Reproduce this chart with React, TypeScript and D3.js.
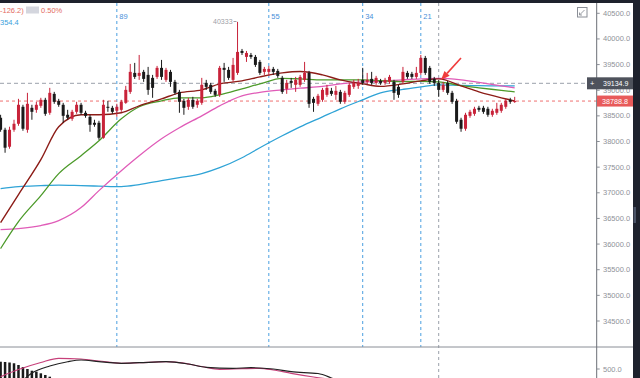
import React from 'react';
import * as d3 from 'd3';

const W = 640;
const H = 378;

// OHLC per candle (index 0..115)
const candleOpen = [38463,38229,37898,38229,38346,38677,38229,38657,38618,38696,38813,38560,38929,38793,38716,38521,38443,38579,38716,38560,38482,38365,38365,38073,38677,38657,38599,38618,38754,38968,39338,39280,39358,39299,39241,39260,39436,39202,39358,39163,38968,38793,38677,38813,38716,38754,39143,39105,38988,38910,39436,39397,39202,39338,39766,39650,39688,39650,39552,39358,39358,39416,39377,39241,39027,39182,39105,39105,39202,39338,38832,38735,38813,38910,38988,38910,38968,38774,38910,39066,39085,39202,39163,39221,39143,39182,39143,39163,39163,39066,39163,39338,39319,39260,39338,39630,39436,39221,39143,39007,39143,38949,38793,38424,38249,38501,38540,38657,38657,38638,38521,38560,38599,38677,38813,38774];
const candleHigh = [38521,38268,38288,38424,38832,38716,38949,38716,38774,38852,38852,39046,38968,38832,38754,38618,38618,38774,38754,38599,38521,38424,38404,38813,38793,38696,38735,38813,39085,39513,39533,39688,39397,39455,39299,39474,39591,39436,39397,39202,39007,38832,38852,38871,38832,39241,39202,39143,39027,39474,39533,39455,39630,40333,39805,39766,39727,39688,39591,39455,39474,39455,39416,39280,39202,39241,39260,39299,39552,39377,38871,38929,39046,39105,39046,39085,39007,38988,39143,39202,39221,39436,39338,39358,39280,39221,39241,39299,39202,39105,39455,39377,39358,39455,39688,39669,39474,39260,39202,39163,39182,38988,38832,38463,38560,38618,38677,38696,38696,38677,38638,38754,38754,38832,38852,38871];
const candleLow = [38190,37781,37859,38190,38307,38210,38171,38424,38560,38657,38501,38521,38735,38677,38365,38424,38404,38540,38521,38463,38190,38288,38034,38054,38579,38540,38482,38579,38735,38929,39221,39202,39163,38910,38852,39221,39202,39163,39066,38910,38560,38521,38618,38638,38657,38716,39007,38929,38871,38871,39163,39202,39163,39299,39688,39552,39611,39455,39299,39299,39280,39299,39241,38929,38929,39046,38968,39066,39163,38657,38579,38696,38774,38871,38891,38813,38735,38735,38871,39027,39027,39105,39124,39105,39105,39105,39105,39124,38813,38852,39124,39221,39221,39221,39299,39299,39124,39085,38871,38968,38910,38735,38346,38190,38210,38463,38501,38579,38540,38482,38482,38521,38560,38638,38735,38754];
const candleClose = [38229,37879,38229,38346,38716,38249,38735,38579,38716,38813,38540,38949,38774,38716,38501,38463,38579,38716,38560,38501,38326,38326,38073,38716,38657,38579,38677,38774,39007,39358,39260,39338,39221,39007,39046,39436,39260,39397,39163,38949,38774,38657,38813,38677,38793,39105,39066,38968,38910,39436,39397,39241,39494,39747,39727,39727,39650,39494,39338,39416,39416,39358,39280,38968,39143,39143,39202,39260,39338,38735,38754,38891,39007,39046,38929,38988,38774,38949,39105,39143,39143,39143,39202,39143,39241,39143,39202,39260,38949,38910,39358,39260,39260,39338,39630,39338,39163,39143,39007,39105,38949,38774,38385,38249,38521,38579,38638,38618,38579,38521,38599,38638,38716,38793,38774,38788.8];

// Moving averages sampled at candle indices
const maIdx = [0,4,9,13,18,22,27,31,36,40,45,49,54,58,63,67,72,76,81,85,90,94,98,103,107,112,115];
const maShort = [36419,36964,37645,38287,38521,38521,38560,38696,38832,38949,39007,39124,39182,39260,39338,39364,39299,39202,39124,39075,39124,39182,39221,39085,38968,38852,38793];
const maMid = [35913,36439,36945,37373,37723,38015,38443,38677,38793,38852,38852,38910,39027,39124,39231,39221,39202,39202,39202,39188,39169,39173,39163,39089,39046,38998,38968];
const maLong = [36283,36303,36361,36458,36711,37042,37431,37723,38054,38268,38501,38696,38891,38959,39007,39040,39076,39124,39163,39173,39202,39221,39231,39202,39153,39085,39046];
const maVeryLong = [37081,37120,37139,37149,37139,37130,37120,37159,37237,37295,37373,37489,37684,37879,38112,38287,38482,38638,38813,38949,39017,39066,39105,39095,39089,39085,39085];

// Lower panel (MACD)
const histVals = [640,635,625,610,577,538,500,467,449,417,385,352];
const difIdx = [0,4,7,11,15,18,22,27,31,37,42,46,52,56,61,65,71,74,77];
const difVals = [58,212,423,558,640,673,640,610,621,640,596,533,513,525,500,448,413,327,212];
const deaIdx = [0,4,9,13,18,22,27,31,37,40,45,49,54,58,61,65,70,75];
const deaVals = [352,490,625,706,692,654,610,621,640,621,548,494,506,513,481,417,346,288];

const yTicks = [40500,40000,39500,39000,38500,38000,37500,37000,36500,36000,35500,35000,34500];
const fibIdx = [26,60,81,94];
const fibLabels = ['89','55','34','21'];
const crossIdx = 98;
const crossPrice = 39134.9;
const lastPrice = 38788.8;
const highMarkIdx = 53;
const highMarkLabel = '40333';

const FONT = "'Liberation Sans', Arial, sans-serif";
const RED = '#c8233a';
const BLACK = '#1a1a1a';

export default function App() {
  const x = d3.scaleLinear().domain([0, 115]).range([0.6, 514.7]);
  const y = d3.scaleLinear().domain([34500, 40500]).range([321, 13.3]);
  const yL = d3.scaleLinear().domain([0, 1000]).range([395, 343]);
  const axisX = 596.7;
  const panelY = 347;

  const maLine = d3.line<number>().x((_, i) => x(maIdx[i])).y((d) => y(d)).curve(d3.curveMonotoneX);
  const difLine = d3.line<number>().x((_, i) => x(difIdx[i])).y((d) => yL(d)).curve(d3.curveMonotoneX);
  const deaLine = d3.line<number>().x((_, i) => x(deaIdx[i])).y((d) => yL(d)).curve(d3.curveMonotoneX);

  const fmt = d3.format('.1f');
  const bw = 3;

  const tip = [441, 80];
  const tail = [461, 58];
  const dx = tip[0] - tail[0], dy = tip[1] - tail[1];
  const len = Math.hypot(dx, dy);
  const ux = dx / len, uy = dy / len;
  const bx = tip[0] - 9 * ux, by = tip[1] - 9 * uy;
  const px = -uy, py = ux;

  const yc = y(crossPrice);
  const yl = y(lastPrice);

  return (
    <svg width={W} height={H} style={{ position: 'absolute', left: 0, top: 0, background: '#fff' }} fontFamily={FONT}>
      <defs>
        <clipPath id="mainClip"><rect x={0} y={3} width={axisX} height={panelY - 3} /></clipPath>
        <clipPath id="lowClip"><rect x={0} y={panelY} width={axisX} height={H - panelY} /></clipPath>
      </defs>
      <rect x={0} y={0} width={W} height={H} fill="#fff" />

      {fibIdx.map((fi, k) => (
        <g key={'fib' + k}>
          <line x1={x(fi)} x2={x(fi)} y1={3} y2={panelY} stroke="#4a9fe0" strokeWidth={1} strokeDasharray="3 3" />
          <text x={x(fi) + 2.5} y={19} fontSize={7.5} fill="#4a90d9">{fibLabels[k]}</text>
        </g>
      ))}

      <line x1={x(crossIdx)} x2={x(crossIdx)} y1={3} y2={H} stroke="#9aa0aa" strokeWidth={1} strokeDasharray="3 3" />
      <line x1={0} x2={587} y1={yc} y2={yc} stroke="#9aa0aa" strokeWidth={1} strokeDasharray="4 3" />
      <line x1={0} x2={axisX} y1={yl} y2={yl} stroke="#ef6f6f" strokeWidth={1} strokeDasharray="3 3" />

      <g clipPath="url(#mainClip)">
        <path d={maLine(maVeryLong) || ''} fill="none" stroke="#2fa3d6" strokeWidth={1.3} />
        <path d={maLine(maLong) || ''} fill="none" stroke="#e05cb8" strokeWidth={1.3} />
        <path d={maLine(maMid) || ''} fill="none" stroke="#4c9a2a" strokeWidth={1.3} />
        <path d={maLine(maShort) || ''} fill="none" stroke="#8c1c17" strokeWidth={1.4} />

        {candleOpen.map((o, i) => {
          const c = candleClose[i];
          const up = c >= o;
          const col = up ? RED : BLACK;
          const top = y(Math.max(o, c));
          const bot = y(Math.min(o, c));
          const cx = x(i);
          return (
            <g key={'c' + i}>
              <line x1={cx} x2={cx} y1={y(candleHigh[i])} y2={y(candleLow[i])} stroke={col} strokeWidth={1} />
              <rect x={cx - bw / 2} y={top} width={bw} height={Math.max(1, bot - top)} fill={col} />
            </g>
          );
        })}
      </g>

      <text x={x(highMarkIdx) - 5} y={24} fontSize={7} fill="#a0a0a8" textAnchor="end">{highMarkLabel}</text>
      <line x1={x(highMarkIdx) - 4} x2={x(highMarkIdx) - 1} y1={21.5} y2={21.5} stroke="#a0a0a8" strokeWidth={1} />

      <line x1={tail[0]} y1={tail[1]} x2={bx} y2={by} stroke="#f03c3c" strokeWidth={1.6} />
      <polygon points={`${tip[0]},${tip[1]} ${bx + px * 3.5},${by + py * 3.5} ${bx - px * 3.5},${by - py * 3.5}`} fill="#f03c3c" />

      <g clipPath="url(#lowClip)">
        {histVals.map((v, i) => (
          <rect key={'h' + i} x={x(i) - 1.25} y={yL(v)} width={2.5} height={yL(0) - yL(v)} fill={BLACK} />
        ))}
        <path d={deaLine(deaVals) || ''} fill="none" stroke="#c7407a" strokeWidth={1.2} />
        <path d={difLine(difVals) || ''} fill="none" stroke="#222" strokeWidth={1.2} />
      </g>

      <line x1={0} x2={633} y1={panelY} y2={panelY} stroke="#8a8e96" strokeWidth={1} />
      <line x1={axisX} x2={axisX} y1={3} y2={H} stroke="#6a6e76" strokeWidth={1} />

      {yTicks.map((t) => (
        <g key={'t' + t}>
          <line x1={axisX} x2={axisX + 3} y1={y(t)} y2={y(t)} stroke="#8a8e96" />
          <text x={603} y={y(t) + (t === 39000 ? 3.2 : 2.5)} fontSize={7.5} fill="#8f9299">{fmt(t)}</text>
        </g>
      ))}
      <line x1={axisX} x2={axisX + 3} y1={yL(500)} y2={yL(500)} stroke="#8a8e96" />
      <text x={603} y={yL(500) + 2.5} fontSize={7.5} fill="#8f9299">{fmt(500)}</text>

      <rect x={587} y={yc - 6} width={46} height={12} fill="#4e525c" />
      <text x={590} y={yc + 2.5} fontSize={7.5} fill="#fff">+</text>
      <text x={603} y={yc + 2.2} fontSize={7} fill="#fff">{fmt(crossPrice)}</text>
      <rect x={597} y={yl - 5.5} width={36} height={11} fill="#e85a5a" />
      <text x={602} y={yl + 2.5} fontSize={7.2} fill="#fff">{fmt(lastPrice)}</text>

      <rect x={577.5} y={7.5} width={9.5} height={9.5} fill="none" stroke="#8a8e96" strokeWidth={1} />
      <path d="M579.5,15 L584.5,10 M579.5,12.5 L579.5,15 L582,15" fill="none" stroke="#8a8e96" strokeWidth={0.9} />

      <text x={0} y={13} fontSize={7.5} fill="#e36b62">-126.2)</text>
      <rect x={26} y={6.5} width={13} height={7} fill="#d4d6de" />
      <text x={41} y={13} fontSize={7.5} fill="#e36b62">0.50%</text>
      <text x={0} y={25} fontSize={7.5} fill="#3a9fdc">354.4</text>

      <rect x={0} y={0} width={W} height={3} fill="#1e222d" />
      <rect x={633} y={0} width={7} height={H} fill="#1e222d" />
      <rect x={633.5} y={207} width={2.5} height={16} fill="#4a5366" />
    </svg>
  );
}
